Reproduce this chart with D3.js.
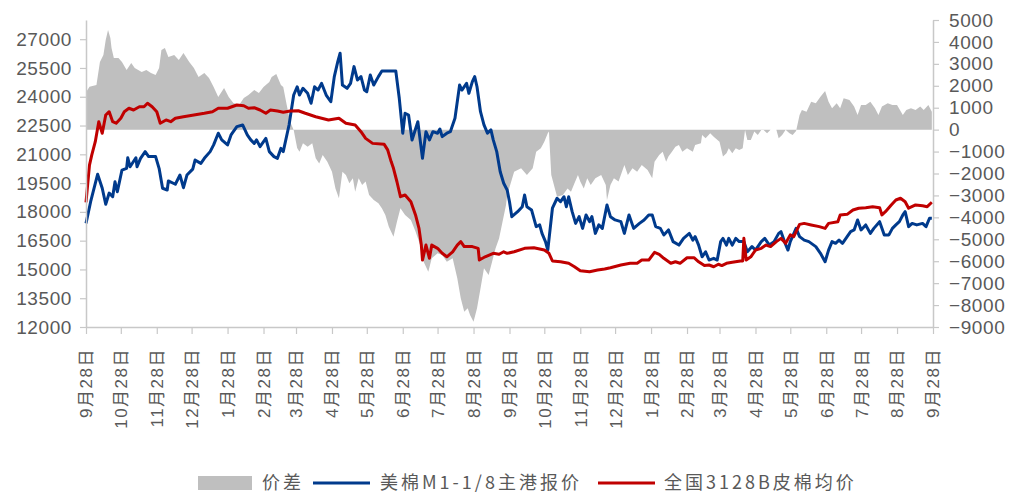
<!DOCTYPE html>
<html>
<head>
<meta charset="utf-8">
<script src="https://cdn.jsdelivr.net/npm/d3@7"></script>
<style>
  body { margin: 0; background: #fff; }
  svg text { font-family: "Liberation Sans", "Noto Sans CJK SC", sans-serif; fill: #595959; }
</style>
</head>
<body>
<div id="chart"></div>
<script>
// series are [days since 2021-09-28, value]
const usCotton = [[0,17400],[4,18530],[10,19960],[14,19230],[17,18400],[20,18980],[23,18790],[25,19570],[27,19050],[31,20180],[35,20270],[36,20820],[38,20350],[43,20820],[44,20350],[47,20790],[51,21140],[54,20880],[60,20880],[63,20270],[66,19230],[70,19140],[71,19610],[77,19440],[81,19920],[84,19260],[87,19920],[92,20230],[94,20700],[99,20530],[102,20790],[107,21140],[110,21490],[114,22100],[117,21750],[122,21490],[125,22010],[130,22440],[135,22530],[139,22010],[142,21750],[145,21570],[147,21750],[150,21400],[155,21830],[158,21140],[162,20880],[165,20790],[168,21310],[170,21140],[175,22530],[179,24090],[182,24520],[184,24090],[187,24440],[191,24180],[194,23660],[197,24520],[200,24350],[203,24700],[207,24090],[211,23740],[214,25050],[217,25830],[219,26270],[221,24610],[225,24440],[228,24700],[231,25570],[234,24870],[237,25050],[240,24350],[242,24260],[245,25130],[248,24610],[252,25050],[255,25340],[267,25340],[270,23920],[273,22100],[275,23140],[278,23050],[281,21750],[286,22700],[290,20790],[293,22180],[296,21750],[299,22180],[303,22100],[305,22320],[307,21920],[311,22100],[314,22180],[318,22880],[322,24610],[324,24350],[328,24700],[330,24180],[333,24790],[335,25050],[337,24520],[340,23220],[343,22530],[346,22100],[349,22270],[351,21750],[354,21140],[357,20090],[360,19490],[363,19140],[365,18530],[367,17750],[372,18010],[376,18270],[378,18880],[380,18270],[384,18100],[388,17230],[391,17320],[393,16880],[396,16450],[398,16010],[402,18190],[406,18710],[409,18530],[412,18790],[414,18270],[416,18790],[419,18010],[422,17400],[425,17750],[428,17140],[431,17840],[434,17490],[436,17750],[439,16880],[442,17320],[445,17140],[449,18360],[452,17750],[456,17580],[461,17490],[464,16880],[468,17840],[472,17140],[477,17400],[481,17580],[485,17840],[488,17840],[491,17230],[495,17140],[498,16800],[502,17060],[506,16450],[511,16270],[515,16620],[520,16880],[523,16530],[525,16710],[528,16270],[531,15660],[534,15920],[537,15490],[541,15580],[544,15490],[547,16450],[549,16620],[552,16270],[554,16620],[557,16270],[560,16620],[563,16450],[567,16450],[570,15920],[574,16190],[577,16010],[582,16450],[585,16620],[589,16270],[593,16450],[597,16880],[599,16970],[602,16450],[605,16010],[607,16450],[612,17140],[615,16710],[619,16530],[623,16450],[629,16190],[633,15840],[637,15400],[640,16010],[643,16450],[646,16360],[649,16530],[652,16360],[656,16710],[659,16970],[662,17060],[665,17580],[668,17060],[672,17320],[676,16880],[679,17140],[684,17490],[688,16800],[692,16800],[695,17140],[698,17320],[701,17490],[704,17840],[706,18010],[709,17230],[712,17400],[716,17320],[721,17400],[724,17230],[727,17670],[729,17670]];

const cnCotton = [[0,18500],[3,20440],[5,20970],[8,21660],[11,22700],[14,22100],[17,23050],[20,23220],[23,22700],[26,22620],[30,22880],[33,23220],[37,23400],[41,23310],[46,23480],[50,23480],[53,23660],[57,23480],[61,23220],[64,22620],[69,22790],[73,22700],[77,22880],[84,22960],[93,23050],[102,23140],[109,23220],[114,23400],[122,23400],[130,23570],[136,23530],[140,23400],[145,23430],[150,23310],[155,23140],[159,23310],[165,23260],[170,23190],[176,23260],[183,23270],[189,23140],[198,22960],[209,22790],[218,22880],[224,22620],[232,22530],[237,22180],[241,21830],[247,21570],[257,21520],[260,21230],[263,20620],[265,20270],[268,19570],[271,18790],[275,18880],[280,18530],[284,17840],[287,17140],[289,16270],[290,15490],[293,16270],[296,15580],[298,16270],[303,16100],[307,15840],[311,15660],[316,15920],[320,16270],[323,16450],[326,16190],[333,16190],[338,16100],[339,15490],[344,15660],[351,15840],[356,15790],[360,15920],[363,15840],[369,15920],[378,16100],[386,16130],[395,16010],[399,15840],[402,15440],[409,15400],[416,15320],[421,15140],[426,14930],[434,14880],[441,14970],[447,15020],[452,15090],[461,15230],[469,15320],[475,15320],[479,15490],[485,15490],[490,15890],[494,15790],[498,15580],[504,15320],[508,15400],[512,15320],[518,15610],[524,15610],[528,15400],[533,15200],[537,15230],[541,15140],[545,15270],[548,15200],[552,15320],[557,15370],[564,15440],[566,15440],[567,16620],[569,15490],[573,15660],[577,16010],[582,16100],[586,16270],[590,16190],[595,16450],[599,16620],[603,16360],[607,16800],[610,16710],[615,17350],[619,17400],[625,17320],[632,17230],[637,17140],[640,17400],[648,17490],[650,17840],[656,17870],[661,18100],[666,18190],[672,18220],[678,18270],[684,18220],[686,17840],[689,18010],[694,18360],[698,18620],[702,18710],[706,18530],[709,18190],[715,18360],[721,18320],[725,18270],[729,18500]];

const spread = [[0,1700],[3,1960],[9,2040],[12,3080],[15,3400],[17,4090],[19,4540],[21,4180],[22,3720],[24,3270],[28,3270],[31,3080],[35,2720],[39,3040],[42,2810],[48,2630],[52,2720],[56,2580],[60,2490],[63,2810],[65,3630],[68,3720],[71,3310],[76,3400],[80,3180],[84,3490],[89,3080],[93,2810],[97,2400],[102,2580],[106,2350],[110,1940],[114,1490],[119,1900],[123,1490],[127,1210],[132,1120],[136,1440],[140,1580],[145,1810],[149,1670],[153,1940],[158,2170],[160,2400],[164,2540],[168,2040],[170,1940],[173,1120],[176,350],[179,-20],[182,-840],[184,-1010],[187,-620],[191,-780],[195,-620],[198,-1310],[201,-1540],[204,-1160],[208,-1460],[212,-1920],[215,-2680],[218,-3130],[221,-1920],[224,-2070],[227,-2450],[230,-2220],[232,-2830],[235,-2220],[238,-2530],[241,-2370],[244,-2980],[248,-3210],[252,-3360],[255,-3590],[258,-3890],[261,-4430],[265,-4880],[268,-4200],[271,-3590],[275,-3890],[280,-4120],[284,-4650],[288,-5260],[291,-6020],[295,-6480],[298,-5870],[303,-5640],[307,-5720],[311,-6020],[316,-5870],[320,-6780],[323,-7690],[326,-8300],[329,-8150],[331,-8450],[334,-8760],[337,-8150],[340,-7240],[343,-6320],[347,-6630],[350,-6020],[353,-5410],[356,-4960],[359,-4200],[362,-3440],[363,-2980],[369,-1920],[375,-1760],[380,-2070],[385,-1760],[388,-1010],[392,-850],[395,-550],[398,-170],[399,-90],[401,-2070],[406,-3060],[411,-2980],[415,-2680],[418,-2830],[421,-2450],[424,-2070],[426,-2370],[429,-2680],[432,-2220],[435,-2530],[439,-2220],[444,-2070],[448,-2530],[449,-3210],[452,-2530],[455,-2220],[459,-2370],[464,-1610],[467,-2070],[471,-1760],[475,-1920],[479,-1610],[484,-1840],[488,-2220],[490,-1460],[494,-1160],[497,-1010],[500,-1460],[502,-1230],[505,-1010],[508,-780],[511,-700],[514,-1010],[518,-850],[523,-1010],[525,-700],[530,-620],[531,-240],[534,-390],[538,-170],[541,-320],[546,-550],[549,-1230],[552,-1080],[554,-850],[557,-1080],[560,-850],[563,-930],[566,-850],[568,-20],[570,-470],[573,-470],[576,-90],[579,-240],[582,-20],[584,-20],[587,-170],[590,0],[595,0],[597,-390],[600,-240],[603,0],[606,-150],[609,-240],[612,-60],[615,670],[617,900],[621,820],[625,1270],[629,1200],[633,1500],[637,1760],[640,1270],[643,970],[647,1200],[650,970],[653,1430],[658,1350],[662,1050],[665,670],[668,1120],[672,1120],[676,1270],[680,970],[683,670],[686,1050],[691,1200],[695,1120],[699,1120],[704,670],[707,900],[711,970],[715,900],[719,1050],[722,900],[726,1120],[729,820]];

const tickDates = ["2021-09-28","2021-10-28","2021-11-28","2021-12-28","2022-01-28","2022-02-28","2022-03-28","2022-04-28","2022-05-28","2022-06-28","2022-07-28","2022-08-28","2022-09-28","2022-10-28","2022-11-28","2022-12-28","2023-01-28","2023-02-28","2023-03-28","2023-04-28","2023-05-28","2023-06-28","2023-07-28","2023-08-28","2023-09-28"];
const tickLabels = ["9月28日","10月28日","11月28日","12月28日","1月28日","2月28日","3月28日","4月28日","5月28日","6月28日","7月28日","8月28日","9月28日","10月28日","11月28日","12月28日","1月28日","2月28日","3月28日","4月28日","5月28日","6月28日","7月28日","8月28日","9月28日"];
const leftTicks = d3.range(12000, 27001, 1500);
const rightTicks = d3.range(-9000, 5001, 1000);
const legendNames = ["价差", "美棉M1-1/8主港报价", "全国3128B皮棉均价"];

const width = 1011, height = 495;
const plotLeft = 86, plotRight = 933, plotTop = 20, plotBottom = 327;
const gray = "#bfbfbf", blue = "#003a8c", red = "#c00000", axisColor = "#c8c8c8";

const parse = d3.timeParse("%Y-%m-%d");
const start = parse(tickDates[0]);
const day = d => d3.timeDay.offset(start, d);

const svg = d3.select("#chart").append("svg")
    .attr("width", width)
    .attr("height", height);

const x = d3.scaleTime()
    .domain([start, parse(tickDates[tickDates.length - 1])])
    .range([plotLeft, plotRight]);
const yL = d3.scaleLinear().domain([12000, 28000]).range([plotBottom, plotTop]);
const yR = d3.scaleLinear().domain([-9000, 5000]).range([plotBottom, plotTop]);

// spread area against the right axis
svg.append("path")
    .datum(spread)
    .attr("fill", gray)
    .attr("d", d3.area()
        .x(d => x(day(d[0])))
        .y0(yR(0))
        .y1(d => yR(d[1])));

const line = d3.line()
    .x(d => x(day(d[0])))
    .y(d => yL(d[1]));

svg.append("path").datum(usCotton)
    .attr("fill", "none").attr("stroke", blue).attr("stroke-width", 3)
    .attr("stroke-linejoin", "round").attr("d", line);

svg.append("path").datum(cnCotton)
    .attr("fill", "none").attr("stroke", red).attr("stroke-width", 3)
    .attr("stroke-linejoin", "round").attr("d", line);

// axes
const gL = svg.append("g")
    .attr("transform", `translate(${plotLeft},0)`)
    .call(d3.axisLeft(yL).tickValues(leftTicks).tickSize(6).tickSizeOuter(0).tickPadding(8).tickFormat(d3.format("d")));

const gR = svg.append("g")
    .attr("transform", `translate(${plotRight},0)`)
    .call(d3.axisRight(yR).tickValues(rightTicks).tickSize(6).tickSizeOuter(0).tickPadding(10).tickFormat(d3.format("d")));

const gX = svg.append("g")
    .attr("transform", `translate(0,${plotBottom})`)
    .call(d3.axisBottom(x).tickValues(tickDates.map(parse)).tickSize(7).tickSizeOuter(0)
        .tickFormat((d, i) => tickLabels[i]));

[gL, gR, gX].forEach(g => {
    g.select(".domain").attr("stroke", axisColor).attr("stroke-width", 1.5);
    g.selectAll(".tick line").attr("stroke", axisColor).attr("stroke-width", 1.2);
});
gL.selectAll("text").attr("font-size", 19).attr("letter-spacing", 0.6);
gR.selectAll("text").attr("font-size", 19).attr("letter-spacing", 0.6);
gX.selectAll("text")
    .attr("font-size", 17)
    .attr("letter-spacing", 1.5)
    .attr("transform", "rotate(-90)")
    .attr("text-anchor", "end")
    .attr("x", -21)
    .attr("y", 0)
    .attr("dy", "0.35em");

// legend
const legendY = 483;
const legend = svg.append("g").attr("font-size", 18);
legend.append("rect").attr("x", 198).attr("y", legendY - 7).attr("width", 54).attr("height", 14).attr("fill", gray);
legend.append("line").attr("x1", 313).attr("x2", 370).attr("y1", legendY).attr("y2", legendY)
    .attr("stroke", blue).attr("stroke-width", 3);
legend.append("line").attr("x1", 598).attr("x2", 655).attr("y1", legendY).attr("y2", legendY)
    .attr("stroke", red).attr("stroke-width", 3);
legend.selectAll("text.name")
    .data(legendNames)
    .enter().append("text")
    .attr("class", "name")
    .attr("x", (d, i) => [262, 380, 664][i])
    .attr("y", legendY)
    .attr("dy", "0.35em")
    .attr("letter-spacing", 3)
    .style("font-family", "'Noto Sans CJK SC', sans-serif")
    .text(d => d);
</script>
</body>
</html>
